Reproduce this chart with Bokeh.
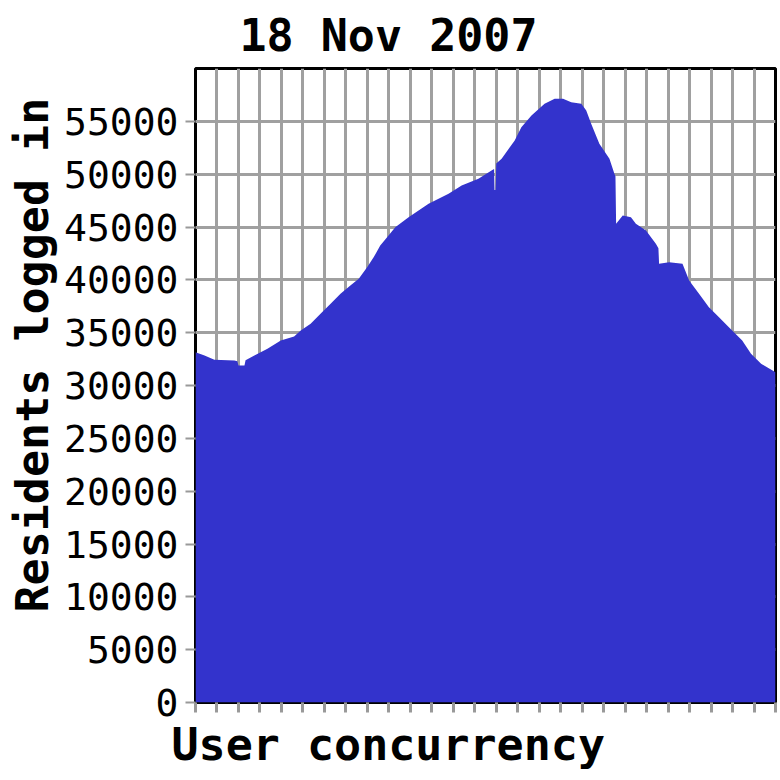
from bokeh.plotting import figure
from bokeh.models import Range1d, FixedTicker, Title, CustomJSTickFormatter
from bokeh.embed import file_html
from bokeh.resources import INLINE

title_text = "18 Nov 2007"
x_label = "User concurrency"
y_label = "Residents logged in"

y_ticks = [0, 5000, 10000, 15000, 20000, 25000, 30000, 35000, 40000, 45000, 50000, 55000]
x_ticks = list(range(0, 28))
x_grid = list(range(1, 27))

# sample position along the x axis (tick units) and residents logged in
sample_pos = [0.0, 0.42, 0.88, 1.81, 1.95, 2.0, 2.28, 2.33, 2.74, 3.35, 3.97, 4.59, 4.90,
              5.36, 5.82, 6.29, 6.75, 7.21, 7.60, 7.99, 8.30, 8.60, 8.92, 9.30, 9.92,
              10.85, 11.78, 12.39, 13.17, 13.78, 13.90, 13.92, 13.97, 14.00, 14.25,
              14.86, 15.17, 15.64, 16.25, 16.72, 17.11, 17.49, 17.96, 18.19, 18.42,
              18.80, 19.27, 19.50, 19.55, 19.58, 19.89, 20.27, 20.50, 20.97, 21.43,
              21.55, 21.58, 22.05, 22.67, 22.98, 23.44, 23.90, 24.37, 24.83, 25.45,
              25.86, 26.33, 27.0]
residents = [33150, 32840, 32430, 32370, 32300, 31900, 31900, 32400, 32840, 33470, 34260,
             34640, 35200, 35840, 36790, 37730, 38680, 39470, 40100, 41200, 42150, 43250,
             44040, 44980, 45930, 47190, 48140, 48930, 49560, 50350, 50500, 48500, 48500,
             51000, 51460, 53190, 54450, 55550, 56660, 57130, 57130, 56810, 56660, 56020,
             54770, 52870, 51460, 50030, 49800, 45300, 46090, 45930, 45300, 44670, 43410,
             43000, 41520, 41670, 41520, 39940, 38680, 37410, 36470, 35520, 34260, 33000,
             32050, 31260]

font = "DejaVu Sans Mono"

p = figure(width=780, height=780, output_backend="svg", toolbar_location=None,
           x_range=Range1d(0, 27), y_range=Range1d(0, 60000),
           min_border_left=193, min_border_right=5, min_border_top=68, min_border_bottom=78)
p.title = Title(text=title_text, align="left", offset=44, text_font=font,
                text_font_size="45px", text_font_style="bold", text_color="black",
                standoff=13)
p.background_fill_color = "white"
p.border_fill_color = "white"
p.outline_line_color = "black"
p.outline_line_width = 3

p.varea(x=sample_pos, y1=0, y2=residents, fill_color="#3333cc", fill_alpha=1.0)

grid_color = "#a0a0a0"
p.xgrid.ticker = FixedTicker(ticks=x_grid)
p.ygrid.ticker = FixedTicker(ticks=y_ticks)
for g in (p.xgrid, p.ygrid):
    g.grid_line_color = grid_color
    g.grid_line_width = 3

p.yaxis.ticker = FixedTicker(ticks=y_ticks)
p.yaxis.major_label_text_font = font
p.yaxis.major_label_text_font_size = "38px"
p.yaxis.major_label_text_color = "black"
p.yaxis.major_label_standoff = 7
p.yaxis.major_tick_out = 10
p.yaxis.major_tick_in = 0
p.yaxis.major_tick_line_color = "#999999"
p.yaxis.major_tick_line_width = 2
p.yaxis.minor_tick_line_color = None
p.yaxis.axis_line_color = None

p.xaxis.ticker = FixedTicker(ticks=x_ticks)
p.xaxis.formatter = CustomJSTickFormatter(code="return ''")
p.xaxis.major_tick_out = 10
p.xaxis.major_tick_in = 0
p.xaxis.major_tick_line_color = "#999999"
p.xaxis.major_tick_line_width = 3
p.xaxis.minor_tick_line_color = None
p.xaxis.axis_line_color = None

p.add_layout(Title(text=x_label, align="left", offset=-24, text_font=font,
                   text_font_size="45px", text_font_style="bold", text_color="black",
                   standoff=6), "below")
p.add_layout(Title(text=y_label, align="left", offset=90, text_font=font,
                   text_font_size="45px", text_font_style="bold", text_color="black",
                   standoff=6), "left")

open("out.html", "w").write(file_html(p, INLINE))
